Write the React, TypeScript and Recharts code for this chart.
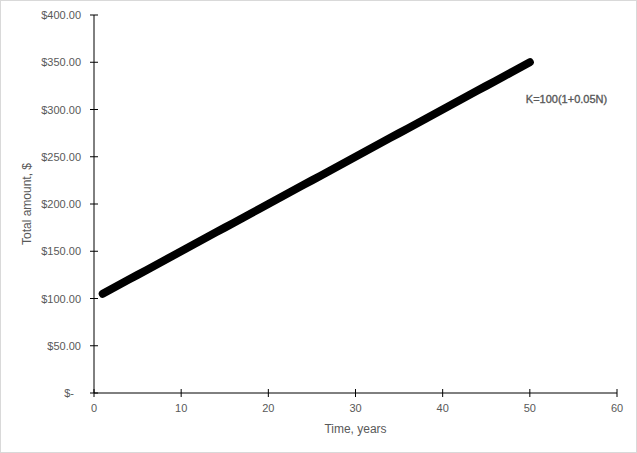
import { CartesianGrid, LabelList, Line, LineChart, XAxis, YAxis } from 'recharts';

const YEARS = [
    1, 2, 3, 4, 5, 6, 7, 8, 9, 10, 11, 12, 13, 14, 15, 16, 17, 18, 19, 20, 21, 22, 23, 24, 25,
    26, 27, 28, 29, 30, 31, 32, 33, 34, 35, 36, 37, 38, 39, 40, 41, 42, 43, 44, 45, 46, 47, 48, 49, 50,
];
const AMOUNTS = [
    105, 110, 115, 120, 125, 130, 135, 140, 145, 150, 155, 160, 165, 170, 175, 180, 185, 190, 195, 200,
    205, 210, 215, 220, 225, 230, 235, 240, 245, 250, 255, 260, 265, 270, 275, 280, 285, 290, 295, 300,
    305, 310, 315, 320, 325, 330, 335, 340, 345, 350,
];
const X_TICKS = [0, 10, 20, 30, 40, 50, 60];
const Y_TICKS = [0, 50, 100, 150, 200, 250, 300, 350, 400];
const SERIES_LABEL = 'K=100(1+0.05N)';

const FONT = '"Liberation Sans", Arial, sans-serif';
const TEXT = '#595959';

const data = YEARS.map((n, i) => ({ n, k: AMOUNTS[i] }));

const money = (v: number) => (v === 0 ? '$-' : `$${v.toFixed(2)}`);

function YTick({ x, y, payload }: any) {
    const v = payload.value as number;
    return (
        <g>
            <line x1={x - 4} x2={x + 4} y1={y} y2={y} stroke="#000" strokeWidth={1} />
            <text x={v === 0 ? x - 20 : x - 13} y={y + 4} textAnchor="end" fontSize={11} fill={TEXT} fontFamily={FONT}>
                {money(v)}
            </text>
        </g>
    );
}

function XTick({ x, y, payload }: any) {
    return (
        <g>
            <line x1={x} x2={x} y1={y - 4} y2={y + 4} stroke="#000" strokeWidth={1} />
            <text x={x} y={y + 19} textAnchor="middle" fontSize={11} fill={TEXT} fontFamily={FONT}>
                {payload.value}
            </text>
        </g>
    );
}

function EndLabel({ x, y, index }: any) {
    if (index !== AMOUNTS.length - 1) return null;
    return (
        <text x={x - 4} y={y + 41} fontSize={11} fill={TEXT} stroke={TEXT} strokeWidth={0.35} fontFamily={FONT}>
            {SERIES_LABEL}
        </text>
    );
}

export default function App() {
    return (
        <div
            style={{
                position: 'absolute',
                left: 0,
                top: 0,
                width: 637,
                height: 453,
                boxSizing: 'border-box',
                border: '1px solid #d9d9d9',
                background: '#fff',
            }}
        >
            <LineChart
                width={635}
                height={451}
                data={data}
                margin={{ top: 14, right: 19, bottom: 14, left: 0 }}
                style={{ fontFamily: FONT }}
            >
                <CartesianGrid stroke="none" />
                <XAxis
                    dataKey="n"
                    type="number"
                    domain={[0, 60]}
                    ticks={X_TICKS}
                    axisLine={{ stroke: '#000', strokeWidth: 1 }}
                    tickLine={false}
                    tickSize={0}
                    tickMargin={0}
                    tick={<XTick />}
                    height={45}
                    label={{ value: 'Time, years', position: 'insideBottom', offset: 5, fill: TEXT, fontSize: 12, fontFamily: FONT }}
                />
                <YAxis
                    type="number"
                    domain={[0, 400]}
                    ticks={Y_TICKS}
                    axisLine={{ stroke: '#000', strokeWidth: 1 }}
                    tickLine={false}
                    tickSize={0}
                    tickMargin={0}
                    tick={<YTick />}
                    width={93}
                    label={{ value: 'Total amount, $', angle: -90, position: 'insideLeft', offset: 26, fill: TEXT, fontSize: 12, fontFamily: FONT, style: { textAnchor: 'middle' } }}
                />
                <Line
                    dataKey="k"
                    stroke="#000"
                    strokeWidth={8}
                    strokeLinecap="round"
                    strokeLinejoin="round"
                    dot={false}
                    activeDot={false}
                    isAnimationActive={false}
                >
                    <LabelList dataKey="k" content={<EndLabel />} />
                </Line>
            </LineChart>
        </div>
    );
}
